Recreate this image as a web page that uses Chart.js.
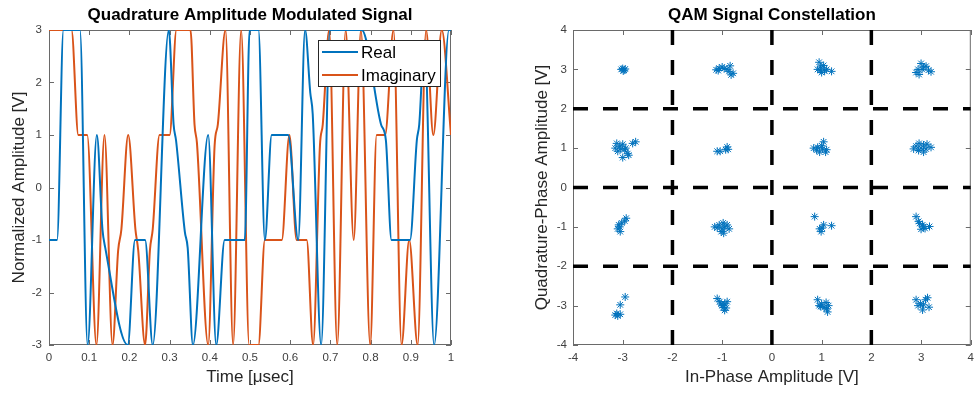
<!DOCTYPE html>
<html>
<head>
<meta charset="utf-8">
<script src="https://cdn.jsdelivr.net/npm/chart.js@4.4.1/dist/chart.umd.min.js"></script>
<style>
  html, body { margin: 0; padding: 0; background: #fff; }
  .wrap { display: flex; width: 980px; height: 394px; }
  .pane { position: relative; width: 490px; height: 394px; }
</style>
</head>
<body>
<div class="wrap">
  <div class="pane"><canvas id="chartSignal"></canvas></div>
  <div class="pane"><canvas id="chartConst"></canvas></div>
</div>
<script>
// --- señal en el tiempo ---
const realT = [0, 0.02, 0.036, 0.077, 0.096, 0.119, 0.133, 0.140, 0.196, 0.214, 0.239, 0.258, 0.298,
  0.310, 0.316, 0.338, 0.345, 0.358, 0.396, 0.416, 0.437, 0.487, 0.499, 0.521, 0.537, 0.554, 0.595,
  0.620, 0.637, 0.650, 0.656, 0.677, 0.699, 0.778, 0.826, 0.838, 0.852, 0.898, 0.915, 0.921, 0.934,
  0.958, 0.995, 1.0];
const realV = [-1, -1, 3, 3, -3, 1, -0.8, -1.15, -3, -1, -1, -3, 3,
  1.2, 0.9, -0.85, -1.15, -3, 1, -3, -1, -1, 3, 3, -1, 1, 1,
  -1, 3, 1.8, 1.4, -3, 3, 3, 1.2, 0.9, -1, -1, 0.9, 1.2, 2.8,
  -3, 3, 3];

const imagT = [0, 0.056, 0.073, 0.095, 0.118, 0.138, 0.158, 0.172, 0.180, 0.197, 0.215, 0.222, 0.239,
  0.251, 0.258, 0.275, 0.300, 0.317, 0.352, 0.362, 0.368, 0.396, 0.412, 0.420, 0.439, 0.458, 0.478,
  0.498, 0.521, 0.537, 0.579, 0.598, 0.616, 0.641, 0.657, 0.674, 0.681, 0.697, 0.717, 0.738, 0.758,
  0.776, 0.799, 0.815, 0.836, 0.857, 0.877, 0.896, 0.917, 0.938, 0.956, 0.977, 1.0];
const imagV = [3, 3, 1, 1, -3, 1, -3, -1.2, -0.8, 1, -0.8, -1.2, -3,
  -1.2, -0.8, 1, 1, 3, 3, 1.2, 0.85, -3, 0.8, 1.2, 3, -3, 3,
  -3, -3, -1, -1, 1, -1, -1, -3, 0.8, 1.2, 3, -3, 3, -1,
  3, -3, 1, 1, 3, -3, -1, -3, 3, 1, 3, 1];

const timeTicks = [0, 0.1, 0.2, 0.3, 0.4, 0.5, 0.6, 0.7, 0.8, 0.9, 1];
const ampTicks = [-3, -2, -1, 0, 1, 2, 3];

// --- constelación ---
const constI = [
  -3.00, -2.97, -3.03, -2.99, -2.95,
  -1.12, -1.06, -1.00, -0.96, -0.90, -0.84, -0.78, -0.86, -1.08, -0.82,
  0.95, 0.98, 0.92, 1.00, 1.06, 1.10, 1.20, 1.04, 0.97,
  2.90, 2.94, 3.00, 3.05, 3.10, 3.15, 3.20, 2.96, 3.02,
  -3.15, -3.10, -3.06, -3.00, -2.96, -2.90, -3.00, -2.80, -2.74, -3.12, -2.94, -3.04, -2.88,
  -1.10, -1.04, -0.93, -0.90, -0.88,
  0.84, 0.90, 0.96, 1.00, 1.04, 1.10, 1.08, 1.02, 0.92,
  2.85, 2.90, 2.96, 3.00, 3.05, 3.10, 3.20, 2.95, 3.05, 3.12,
  -3.08, -3.10, -3.05, -3.02, -2.96, -2.93, -3.06,
  -1.15, -1.06, -1.00, -0.98, -0.95, -0.90, -0.86, -1.02, -0.97, -1.10,
  0.86, 1.04, 1.20, 0.99, 1.01, 0.96,
  2.90, 2.97, 3.03, 3.17, 3.00, 3.05, 2.95, 3.08,
  -2.95, -3.05, -3.15, -3.05, -3.10, -3.12,
  -1.10, -1.05, -1.00, -0.95, -0.92, -0.95, -0.90, -0.98, -1.02,
  0.92, 0.95, 1.09, 1.14, 1.05, 1.12, 1.00, 1.10, 0.98,
  2.90, 2.99, 3.09, 3.16, 3.03, 2.94, 3.13, 3.05
];
const constQ = [
  3.02, 2.98, 3.00, 2.96, 3.01,
  2.99, 3.03, 3.06, 3.02, 3.00, 3.09, 2.90, 2.95, 2.97, 2.86,
  3.18, 3.06, 3.00, 2.92, 2.96, 3.00, 2.95, 3.10, 2.98,
  2.92, 3.00, 3.15, 3.06, 3.08, 2.98, 2.94, 2.87, 3.00,
  1.00, 0.92, 1.05, 1.10, 0.96, 0.86, 0.76, 1.12, 1.16, 1.12, 1.00, 0.98, 0.82,
  0.92, 0.92, 0.96, 1.03, 0.97,
  1.00, 0.95, 0.90, 1.06, 1.16, 0.96, 0.90, 0.98, 1.02,
  0.98, 1.05, 1.12, 1.00, 1.08, 0.98, 1.02, 0.94, 0.90, 1.10,
  -0.95, -1.05, -1.12, -0.90, -0.85, -0.78, -1.00,
  -1.00, -0.95, -1.05, -0.90, -1.00, -0.95, -1.05, -1.12, -1.16, -1.02,
  -0.74, -0.95, -0.97, -1.12, -1.03, -1.05,
  -0.74, -0.91, -0.95, -0.99, -1.06, -1.00, -0.86, -1.04,
  -2.78, -2.98, -3.24, -3.22, -3.26, -3.20,
  -2.82, -2.90, -3.00, -2.95, -3.06, -3.12, -2.90, -3.05, -2.96,
  -2.85, -3.00, -2.92, -3.00, -3.05, -3.16, -2.96, -3.08, -3.02,
  -2.85, -2.95, -2.85, -3.04, -3.11, -3.00, -2.80, -2.98
];
const boundaries = [-2, 0, 2];
const constTicks = [-4, -3, -2, -1, 0, 1, 2, 3, 4];

const BLUE = '#0072BD';
const ORANGE = '#D95319';
const FONT = 'Liberation Sans, Arial, Helvetica, sans-serif';

// caja estilo MATLAB con marcas hacia adentro
const matlabBox = {
  id: 'matlabBox',
  beforeDatasetsDraw(chart) {
    const { ctx, chartArea: a, scales } = chart;
    const tl = 5;
    ctx.save();
    ctx.strokeStyle = '#6a6a6a';
    ctx.lineWidth = 1;
    ctx.strokeRect(a.left + 0.5, a.top + 0.5, a.right - a.left - 1, a.bottom - a.top - 1);
    ctx.beginPath();
    scales.x.ticks.forEach(t => {
      const px = Math.round(scales.x.getPixelForValue(t.value)) + 0.5;
      ctx.moveTo(px, a.bottom); ctx.lineTo(px, a.bottom - tl);
      ctx.moveTo(px, a.top); ctx.lineTo(px, a.top + tl);
    });
    scales.y.ticks.forEach(t => {
      const py = Math.round(scales.y.getPixelForValue(t.value)) + 0.5;
      ctx.moveTo(a.left, py); ctx.lineTo(a.left + tl, py);
      ctx.moveTo(a.right, py); ctx.lineTo(a.right - tl, py);
    });
    ctx.stroke();
    ctx.restore();
  }
};

// leyenda dentro del área del gráfico
const insideLegend = {
  id: 'insideLegend',
  afterDraw(chart) {
    const { ctx, chartArea: a } = chart;
    const w = 122, h = 46;
    const x0 = a.right - 11 - w, y0 = a.top + 10;
    ctx.save();
    ctx.fillStyle = '#fff';
    ctx.fillRect(x0, y0, w, h);
    ctx.strokeStyle = '#262626';
    ctx.lineWidth = 1;
    ctx.strokeRect(x0 + 0.5, y0 + 0.5, w, h);
    ctx.font = '17px ' + FONT;
    ctx.textBaseline = 'middle';
    chart.data.datasets.forEach((ds, i) => {
      const y = y0 + 12 + i * 23;
      ctx.strokeStyle = ds.borderColor;
      ctx.lineWidth = 2;
      ctx.beginPath();
      ctx.moveTo(x0 + 4, y); ctx.lineTo(x0 + 40, y);
      ctx.stroke();
      ctx.fillStyle = '#000';
      ctx.fillText(ds.label, x0 + 43, y + 1);
    });
    ctx.restore();
  }
};

const tickFont = { family: FONT, size: 11.5 };
const labelFont = { family: FONT, size: 17 };
const titleFont = { family: FONT, size: 17, weight: 'bold' };

function toPoints(xs, ys) {
  return xs.map((x, i) => ({ x: x, y: ys[i] }));
}

new Chart(document.getElementById('chartSignal'), {
  type: 'line',
  data: {
    datasets: [
      { label: 'Real', data: toPoints(realT, realV), borderColor: BLUE, borderWidth: 2,
        pointRadius: 0, cubicInterpolationMode: 'monotone', fill: false },
      { label: 'Imaginary', data: toPoints(imagT, imagV), borderColor: ORANGE, borderWidth: 2,
        pointRadius: 0, cubicInterpolationMode: 'monotone', fill: false }
    ]
  },
  options: {
    responsive: true,
    maintainAspectRatio: false,
    animation: false,
    layout: { padding: { left: 0, right: 39, top: 0, bottom: 0 } },
    plugins: {
      legend: { display: false },
      tooltip: { enabled: false },
      title: { display: true, fullSize: false, text: 'Quadrature Amplitude Modulated Signal', color: '#000',
        font: titleFont, padding: { top: 5, bottom: 4.6 } }
    },
    scales: {
      x: {
        type: 'linear', min: 0, max: 1,
        afterBuildTicks: s => { s.ticks = timeTicks.map(v => ({ value: v })); },
        afterFit: s => { s.height = 49; },
        grid: { display: false, drawTicks: false },
        border: { display: false },
        ticks: { font: tickFont, color: '#404040', padding: 6, maxRotation: 0,
          callback: v => String(v) },
        title: { display: true, text: 'Time [\u03BCsec]', font: labelFont, color: '#262626',
          padding: { top: 0, bottom: 6 } }
      },
      y: {
        type: 'linear', min: -3, max: 3,
        afterBuildTicks: s => { s.ticks = ampTicks.map(v => ({ value: v })); },
        afterFit: s => { s.width = 49; },
        grid: { display: false, drawTicks: false },
        border: { display: false },
        ticks: { font: tickFont, color: '#404040', padding: 7 },
        title: { display: true, text: 'Normalized Amplitude [V]', font: labelFont, color: '#262626',
          padding: { top: 9, bottom: 0 } }
      }
    }
  },
  plugins: [matlabBox, insideLegend]
});

const boundaryLines = [];
boundaries.forEach(b => {
  boundaryLines.push({ data: [{ x: b, y: -4 }, { x: b, y: 4 }] });
  boundaryLines.push({ data: [{ x: -4, y: b }, { x: 4, y: b }] });
});

new Chart(document.getElementById('chartConst'), {
  type: 'scatter',
  data: {
    datasets: [
      { label: 'symbols', data: toPoints(constI, constQ), pointStyle: 'star', pointRadius: 4,
        pointBorderColor: BLUE, pointBackgroundColor: BLUE, pointBorderWidth: 1 }
    ].concat(boundaryLines.map(l => ({
      data: l.data, showLine: true, pointRadius: 0, borderColor: '#000', borderWidth: 3.5,
      borderDash: [15, 15], fill: false
    })))
  },
  options: {
    responsive: true,
    maintainAspectRatio: false,
    animation: false,
    layout: { padding: { left: 0, right: 5, top: 0, bottom: 0 } },
    plugins: {
      legend: { display: false },
      tooltip: { enabled: false },
      title: { display: true, fullSize: false, text: 'QAM Signal Constellation', color: '#000',
        font: titleFont, padding: { top: 5, bottom: 4.6 } }
    },
    scales: {
      x: {
        type: 'linear', min: -4, max: 4,
        afterBuildTicks: s => { s.ticks = constTicks.map(v => ({ value: v })); },
        afterFit: s => { s.height = 49; },
        grid: { display: false, drawTicks: false },
        border: { display: false },
        ticks: { font: tickFont, color: '#404040', padding: 6, maxRotation: 0 },
        title: { display: true, text: 'In-Phase Amplitude [V]', font: labelFont, color: '#262626',
          padding: { top: 0, bottom: 6 } }
      },
      y: {
        type: 'linear', min: -4, max: 4,
        afterBuildTicks: s => { s.ticks = constTicks.map(v => ({ value: v })); },
        afterFit: s => { s.width = 83; },
        grid: { display: false, drawTicks: false },
        border: { display: false },
        ticks: { font: tickFont, color: '#404040', padding: 6 },
        title: { display: true, text: 'Quadrature-Phase Amplitude [V]', font: labelFont, color: '#262626',
          padding: { top: 42, bottom: 0 } }
      }
    }
  },
  plugins: [matlabBox]
});
</script>
</body>
</html>
